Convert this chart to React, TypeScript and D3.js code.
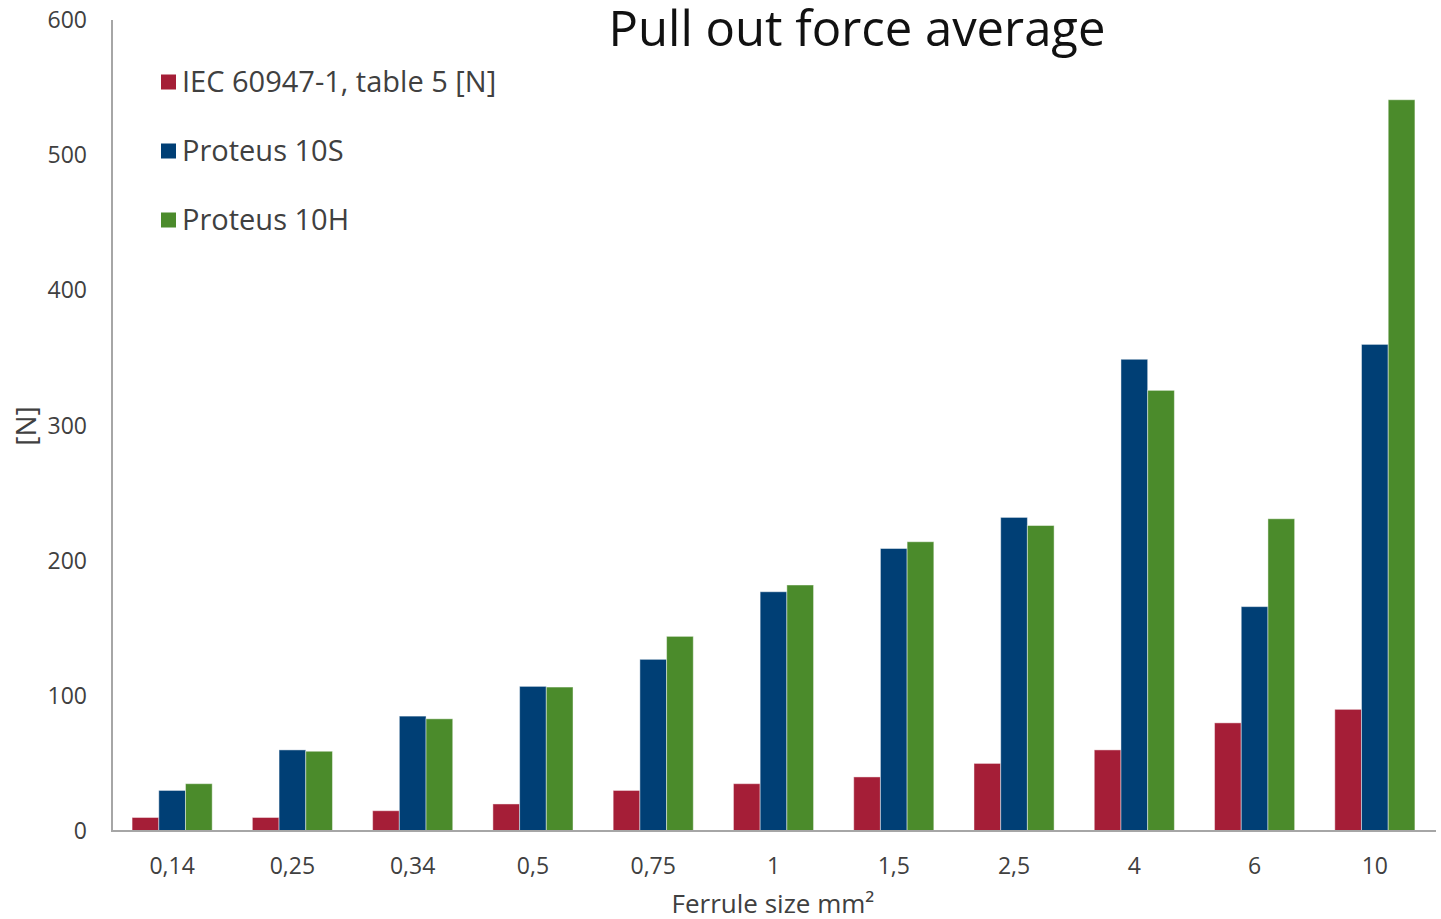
import React from "react";
import * as d3 from "d3";

const categories = ["0,14", "0,25", "0,34", "0,5", "0,75", "1", "1,5", "2,5", "4", "6", "10"];
const seriesNames = ["IEC 60947-1, table 5 [N]", "Proteus 10S", "Proteus 10H"];
const seriesColors = ["#A51E37", "#003F75", "#4B8B2B"];
const iecValues = [10, 10, 15, 20, 30, 35, 40, 50, 60, 80, 90];
const proteus10S = [30, 60, 85, 107, 127, 177, 209, 232, 349, 166, 360];
const proteus10H = [35, 59, 83, 106.5, 144, 182, 214, 226, 326, 231, 541];
const yTicks = [0, 100, 200, 300, 400, 500, 600];

const W = 1441;
const H = 919;

export default function App() {
  const seriesValues = [iecValues, proteus10S, proteus10H];
  const x0 = d3.scaleBand<string>().domain(categories).range([112, 1435]).padding(0);
  const x1 = d3
    .scaleBand<number>()
    .domain([0, 1, 2])
    .range([0, x0.bandwidth()])
    .paddingInner(0)
    .paddingOuter(0.752);
  const y = d3.scaleLinear().domain([0, 600]).range([831, 20]);
  const textColor = "#404040";
  const axisColor = "#A6A6A6";
  const font = "'Open Sans', sans-serif";

  return (
    <div style={{ position: "fixed", left: 0, top: 0, width: W, height: H, overflow: "hidden" }}>
      <svg width={W} height={H} style={{ display: "block", background: "#fff" }}>
        {categories.map((c, ci) =>
          seriesValues.map((vals, si) => (
            <rect
              key={`${c}-${si}`}
              x={(x0(c) as number) + (x1(si) as number)}
              y={y(vals[ci])}
              width={x1.bandwidth()}
              height={y(0) - y(vals[ci])}
              fill={seriesColors[si]}
              stroke="#ffffff"
              strokeOpacity={0.45}
              strokeWidth={1}
            />
          ))
        )}
        <line x1={112} x2={112} y1={y(600)} y2={y(0)} stroke={axisColor} strokeWidth={2} />
        <line x1={111} x2={1436} y1={y(0)} y2={y(0)} stroke={axisColor} strokeWidth={2} />
        {yTicks.map((t) => (
          <text
            key={t}
            x={87}
            y={y(t)}
            dy="0.35em"
            textAnchor="end"
            fontFamily={font}
            fontSize={23}
            fill={textColor}
          >
            {t}
          </text>
        ))}
        {categories.map((c) => (
          <text
            key={c}
            x={(x0(c) as number) + x0.bandwidth() / 2}
            y={866}
            dy="0.35em"
            textAnchor="middle"
            fontFamily={font}
            fontSize={23}
            fill={textColor}
          >
            {c}
          </text>
        ))}
        <text
          x={773}
          y={913}
          textAnchor="middle"
          fontFamily={font}
          fontSize={26}
          fill={textColor}
        >
          Ferrule size mm²
        </text>
        <text
          transform="translate(26,426) rotate(-90)"
          dy="0.35em"
          textAnchor="middle"
          fontFamily={font}
          fontSize={28}
          fill={textColor}
        >
          [N]
        </text>
        <text
          x={857}
          y={46}
          textAnchor="middle"
          fontFamily={font}
          fontSize={49}
          fill="#111"
        >
          Pull out force average
        </text>
        {seriesNames.map((n, i) => (
          <g key={n} transform={`translate(161,${82 + i * 69})`}>
            <rect x={0} y={-7.5} width={15} height={15} fill={seriesColors[i]} />
            <text x={21} y={0} dy="0.35em" fontFamily={font} fontSize={29} fill={textColor}>
              {n}
            </text>
          </g>
        ))}
      </svg>
    </div>
  );
}
